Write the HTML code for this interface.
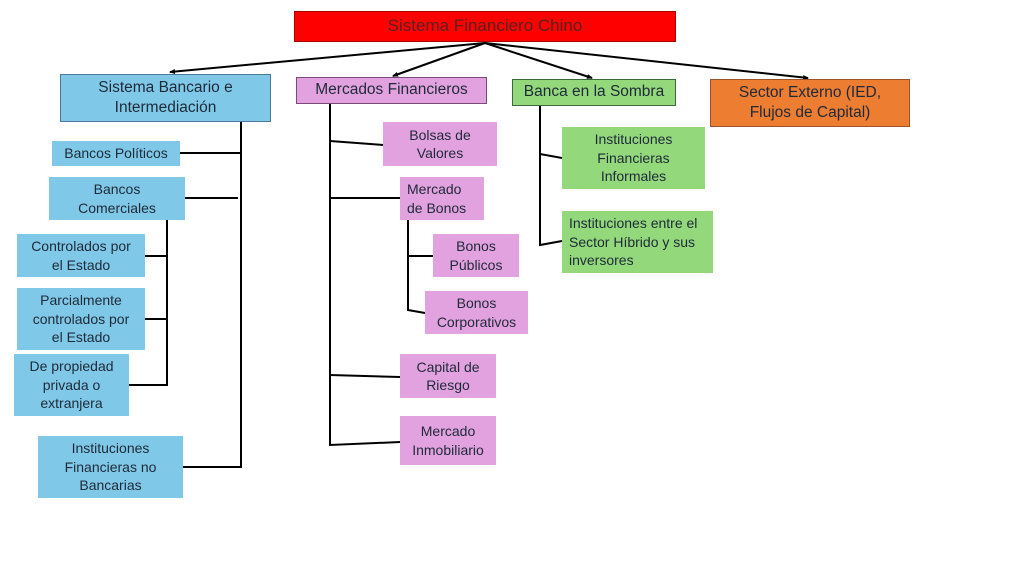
<!DOCTYPE html>
<html><head><meta charset="utf-8"><style>
body{margin:0;width:1024px;height:576px;background:#fff;position:relative;overflow:hidden;font-family:"Liberation Sans",sans-serif;color:#1e2a38}
.b{position:absolute;box-sizing:border-box;display:flex;align-items:center;justify-content:center;text-align:center;font-size:14px;line-height:18.5px;white-space:nowrap}
.bl{background:#80c8e8}.pk{background:#e2a2e0}.gr{background:#94d87c}
svg{position:absolute;left:0;top:0}
</style></head><body>
<svg width="1024" height="576">
<defs><marker id="a" markerWidth="6" markerHeight="5" refX="5" refY="2.5" orient="auto" markerUnits="userSpaceOnUse"><path d="M0,0L6,2.5L0,5z" fill="#000"/></marker></defs>
<g stroke="#000" stroke-width="2" fill="none">
<line x1="485" y1="43" x2="170" y2="72" marker-end="url(#a)"/>
<line x1="485" y1="43" x2="393" y2="76" marker-end="url(#a)"/>
<line x1="485" y1="43" x2="592" y2="78" marker-end="url(#a)"/>
<line x1="485" y1="43" x2="808" y2="78" marker-end="url(#a)"/>
<polyline points="241,122 241,467 183,467"/>
<line x1="180" y1="153" x2="241" y2="153"/>
<line x1="185" y1="198" x2="238" y2="198"/>
<polyline points="167,220 167,385 129,385"/>
<line x1="145" y1="256" x2="167" y2="256"/>
<line x1="145" y1="319" x2="167" y2="319"/>
<polyline points="330,104 330,445 400,442"/>
<polyline points="330,141 383,145"/>
<line x1="330" y1="198" x2="400" y2="198"/>
<line x1="330" y1="375" x2="400" y2="377"/>
<polyline points="408,220 408,310 425,313"/>
<line x1="408" y1="256" x2="433" y2="256"/>
<polyline points="540,106 540,245 562,241"/>
<line x1="540" y1="154" x2="562" y2="158"/>
</g></svg>
<div class="b" style="left:294px;top:11px;width:382px;height:31px;background:#ff0000;border:1px solid #a00;font-size:17px;color:#5a2020">Sistema Financiero Chino</div>
<div class="b bl" style="left:60px;top:74px;width:211px;height:48px;font-size:15.5px;line-height:20px;border:1px solid #4a7a9a">Sistema Bancario e<br>Intermediación</div>
<div class="b pk" style="left:296px;top:77px;width:191px;height:27px;font-size:15.5px;border:1px solid #7a4a7a">Mercados Financieros</div>
<div class="b gr" style="left:512px;top:79px;width:164px;height:27px;font-size:15.5px;border:1px solid #3a6a3a">Banca en la Sombra</div>
<div class="b" style="left:710px;top:79px;width:200px;height:48px;background:#ed7d31;font-size:15.5px;line-height:20px;border:1px solid #a0522d">Sector Externo (IED,<br>Flujos de Capital)</div>
<div class="b bl" style="left:52px;top:141px;width:128px;height:25px">Bancos Políticos</div>
<div class="b bl" style="left:49px;top:177px;width:136px;height:43px">Bancos<br>Comerciales</div>
<div class="b bl" style="left:17px;top:234px;width:128px;height:43px">Controlados por<br>el Estado</div>
<div class="b bl" style="left:17px;top:288px;width:128px;height:62px">Parcialmente<br>controlados por<br>el Estado</div>
<div class="b bl" style="left:14px;top:354px;width:115px;height:62px">De propiedad<br>privada o<br>extranjera</div>
<div class="b bl" style="left:38px;top:436px;width:145px;height:62px">Instituciones<br>Financieras no<br>Bancarias</div>
<div class="b pk" style="left:383px;top:122px;width:114px;height:44px">Bolsas de<br>Valores</div>
<div class="b pk" style="left:400px;top:177px;width:84px;height:43px;justify-content:flex-start;text-align:left;padding-left:7px">Mercado<br>de Bonos</div>
<div class="b pk" style="left:433px;top:234px;width:86px;height:43px">Bonos<br>Públicos</div>
<div class="b pk" style="left:425px;top:291px;width:103px;height:43px">Bonos<br>Corporativos</div>
<div class="b pk" style="left:400px;top:354px;width:96px;height:44px">Capital de<br>Riesgo</div>
<div class="b pk" style="left:400px;top:416px;width:96px;height:49px">Mercado<br>Inmobiliario</div>
<div class="b gr" style="left:562px;top:127px;width:143px;height:62px">Instituciones<br>Financieras<br>Informales</div>
<div class="b gr" style="left:562px;top:211px;width:151px;height:62px;justify-content:flex-start;text-align:left;padding-left:7px">Instituciones entre el<br>Sector Híbrido y sus<br>inversores</div>
</body></html>
